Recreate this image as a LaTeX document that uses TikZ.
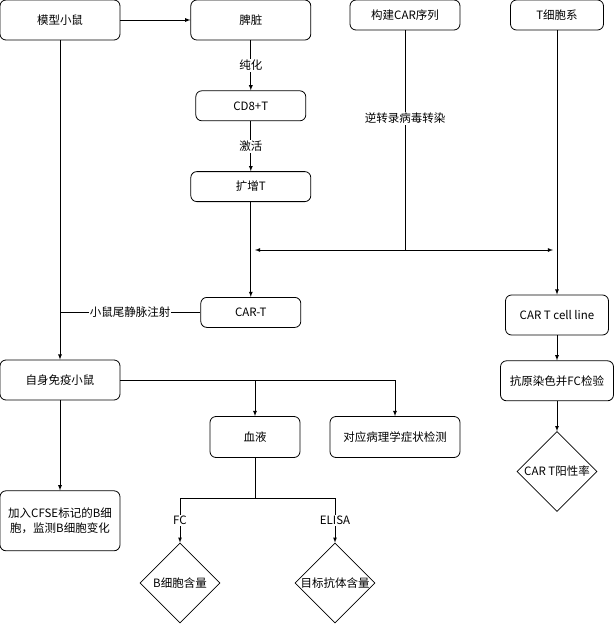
\documentclass[tikz,border=0pt]{standalone}
\usepackage{fontspec}
\setmainfont{Noto Sans CJK SC}
\usetikzlibrary{arrows, shapes, positioning}

\begin{document}
\begin{tikzpicture}[x=1pt,y=-1pt,->,>=latex,line width=0.8pt,font=\fontsize{11.5}{15}\selectfont]

	\tikzset{box st/.style={draw, rounded corners=6pt,
			minimum width=120pt, minimum height=40pt,
			inner sep=2pt, align=center},
		dia st/.style={draw, diamond, minimum size=80pt,
			inner sep=0pt, line width=0.6pt},
		lbl st/.style={fill=white, inner sep=1pt}}

	\useasboundingbox (0,0) rectangle (615,624);

	\node[box st] (model) at (60,20) {模型小鼠};
	\node[box st, right=70pt of model] (spleen) {脾脏};
	\node[box st, minimum width=110pt, minimum height=30pt] (carseq) at (405,15) {构建CAR序列};
	\node[box st, minimum width=93pt, minimum height=30pt] (tline) at (557,15) {T细胞系};

	\node[box st, minimum width=110pt, minimum height=30pt, below=50pt of spleen] (cd8) {CD8+T};
	\node[box st, minimum height=30pt, below=50pt of cd8] (expand) {扩增T};
	\node[box st, minimum width=100pt, minimum height=30pt, below=95pt of expand] (cart) {CAR-T};

	\node[box st, minimum width=103pt] (carline) at (557,315) {CAR T cell line};
	\node[box st, minimum width=113pt, below=25pt of carline] (stain) {抗原染色并FC检验};
	\node[dia st, label=center:{CAR T阳性率}, below=30pt of stain] (posrate) {};

	\node[box st] (auto) at (60,380) {自身免疫小鼠};
	\node[box st, minimum height=60pt, below=90pt of auto] (cfse) {加入CFSE标记的B细\\胞，监测B细胞变化};
	\node[box st, minimum width=90pt, minimum height=41pt] (blood) at (255,437) {血液};
	\node[box st, minimum width=130pt, minimum height=41pt] (patho) at (395,437) {对应病理学症状检测};
	\node[dia st, label=center:{B细胞含量}] (bcell) at (180,583) {};
	\node[dia st, label=center:{目标抗体含量}] (antib) at (335,583) {};

	\coordinate (mix) at (405,250);
	\coordinate (tL) at (255,250);
	\coordinate (tR) at (553,250);
	\coordinate (split) at (255,498);

	\draw (model) -- (spleen);
	\draw (spleen) -- node[lbl st]{纯化} (cd8);
	\draw (cd8) -- node[lbl st]{激活} (expand);
	\draw (expand) -- (cart);
	\draw[-] (carseq) -- node[lbl st, pos=0.4]{逆转录病毒转染} (mix);
	\draw (mix) -- (tL);
	\draw (mix) -- (tR);
	\draw (tline) -- (carline);
	\draw (carline) -- (stain);
	\draw (stain) -- (posrate);
	\draw[-] (cart) -- node[lbl st]{小鼠尾静脉注射} (cart -| model);
	\draw (model) -- (auto);
	\draw (auto) -- (cfse);
	\draw (auto) -| (blood);
	\draw (auto) -| (patho);
	\draw[-] (blood) -- (split);
	\draw (split) -| node[lbl st, pos=0.75]{FC} (bcell);
	\draw (split) -| node[lbl st, pos=0.75]{ELISA} (antib);

\end{tikzpicture}
\end{document}
